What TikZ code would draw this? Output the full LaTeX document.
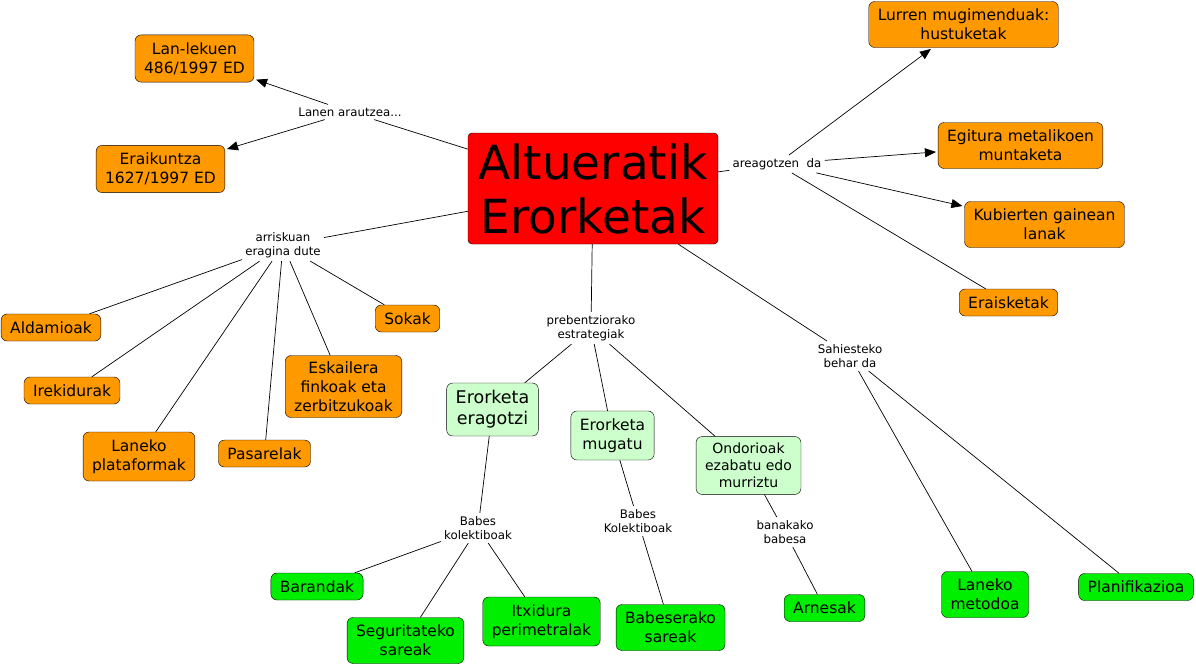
\documentclass[tikz,border=0pt]{standalone}
\usepackage{fontspec}
\setmainfont{DejaVu Sans}
\usetikzlibrary{arrows.meta}
\definecolor{cmred}{RGB}{255,0,0}
\definecolor{cmorange}{RGB}{255,153,0}
\definecolor{cmlight}{RGB}{204,255,204}
\definecolor{cmgreen}{RGB}{0,238,0}

\begin{document}
\begin{tikzpicture}[x=1pt, y=-1pt,
  concept/.style={draw, rounded corners=6pt, align=center, inner xsep=9pt,
    inner ysep=7.5pt, font=\fontsize{15.5}{19}\selectfont},
  hazard/.style={concept, fill=cmorange},
  strategy/.style={concept, fill=cmlight},
  measure/.style={concept, fill=cmgreen},
  phrase/.style={align=center, inner sep=3pt, font=\fontsize{11.8}{14.5}\selectfont},
  link/.style={line width=0.7pt},
  arrow/.style={link, -{Triangle[length=11pt,width=9pt]}, shorten >=2pt}]
  \useasboundingbox (0,0) rectangle (1196,667);

  % central concept
  \node[draw, fill=cmred, rounded corners=4pt, minimum width=250, minimum height=111,
    align=center, font=\fontsize{47}{54}\selectfont] (main) at (593,188.5) {Altueratik\\Erorketak};

  % linking phrases
  \node[phrase] (lanen) at (350,112) {Lanen arautzea...};
  \node[phrase] (areag) at (777,164) {areagotzen\ \ da};
  \node[phrase] (arrisk) at (283,245) {arriskuan\\eragina dute};
  \node[phrase] (preb) at (591,328) {prebentziorako\\estrategiak};
  \node[phrase] (sahi) at (850,356) {Sahiesteko\\behar da};
  \node[phrase] (babes1) at (478,528) {Babes\\kolektiboak};
  \node[phrase] (babes2) at (638,521) {Babes\\Kolektiboak};
  \node[phrase] (banak) at (785,532) {banakako\\babesa};

  % regulations
  \node[hazard] (lanlek) at (194.5,58.5) {Lan-lekuen\\486/1997 ED};
  \node[hazard] (eraik) at (160.5,169) {Eraikuntza\\1627/1997 ED};

  % works
  \node[hazard] (lurren) at (963.5,24.5) {Lurren mugimenduak:\\hustuketak};
  \node[hazard] (egitura) at (1020.5,145.5) {Egitura metalikoen\\muntaketa};
  \node[hazard] (kubi) at (1044.5,224.5) {Kubierten gainean\\lanak};
  \node[hazard] (eraisk) at (1008.5,302.5) {Eraisketak};

  % risk factors
  \node[hazard] (aldam) at (51,327.5) {Aldamioak};
  \node[hazard] (ireki) at (72,390.5) {Irekidurak};
  \node[hazard] (lanplat) at (139,456.5) {Laneko\\plataformak};
  \node[hazard] (pasar) at (264.5,453.5) {Pasarelak};
  \node[hazard, inner ysep=6pt] (eskail) at (343.5,386.5) {Eskailera\\finkoak eta\\zerbitzukoak};
  \node[hazard] (sokak) at (407.5,318.5) {Sokak};

  % strategies
  \node[strategy, font=\fontsize{17.5}{21}\selectfont] (eragotzi) at (492.5,409.5) {Erorketa\\eragotzi};
  \node[strategy] (mugatu) at (612.5,435.5) {Erorketa\\mugatu};
  \node[strategy, inner ysep=6.5pt, font=\fontsize{14}{17}\selectfont] (ondor) at (748.5,465.5) {Ondorioak\\ezabatu edo\\murriztu};

  % protections
  \node[measure] (baran) at (317,586.5) {Barandak};
  \node[measure] (segur) at (405.5,640.5) {Seguritateko\\sareak};
  \node[measure] (itxid) at (541.5,621.5) {Itxidura\\perimetralak};
  \node[measure] (babsar) at (670.5,627.5) {Babeserako\\sareak};
  \node[measure] (arnes) at (824.5,608) {Arnesak};
  \node[measure] (lanmet) at (985,594.5) {Laneko\\metodoa};
  \node[measure] (planif) at (1136,587) {Planifikazioa};

  \draw[link] (main) -- (lanen);
  \draw[arrow] (lanen) -- (lanlek);
  \draw[arrow] (lanen) -- (eraik);

  \draw[link] (main) -- (areag);
  \draw[arrow] (areag) -- (lurren);
  \draw[arrow] (areag) -- (egitura);
  \draw[arrow] (areag) -- (kubi);
  \draw[link] (areag) -- (eraisk);

  \draw[link] (main) -- (arrisk);
  \foreach \n in {aldam, ireki, lanplat, pasar, eskail, sokak}
    \draw[link] (arrisk) -- (\n);

  \draw[link] (main) -- (preb);
  \foreach \n in {eragotzi, mugatu, ondor}
    \draw[link] (preb) -- (\n);

  \draw[link] (main) -- (sahi);
  \draw[link] (sahi) -- (lanmet);
  \draw[link] (sahi) -- (planif);

  \draw[link] (eragotzi) -- (babes1);
  \foreach \n in {baran, segur, itxid}
    \draw[link] (babes1) -- (\n);
  \draw[link] (mugatu) -- (babes2);
  \draw[link] (babes2) -- (babsar);
  \draw[link] (ondor) -- (banak);
  \draw[link] (banak) -- (arnes);
\end{tikzpicture}
\end{document}
